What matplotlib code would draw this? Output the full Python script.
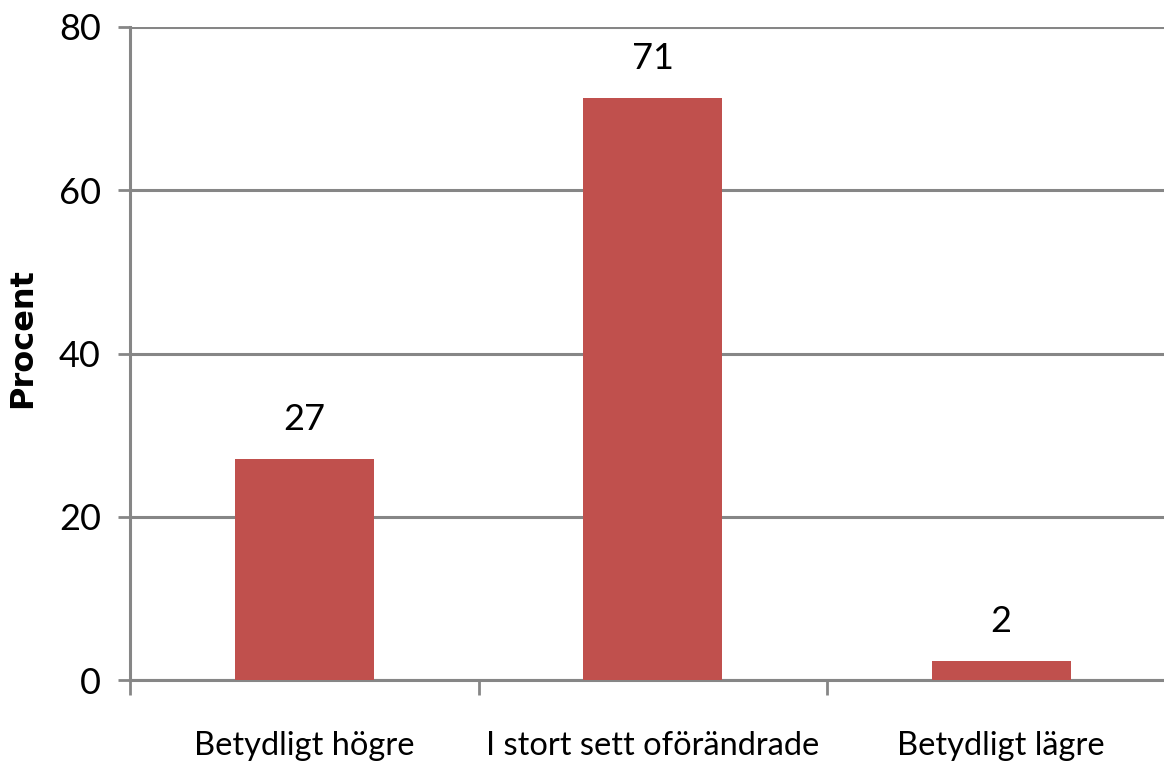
import matplotlib
matplotlib.use("Agg")
import matplotlib.pyplot as plt

categories = ["Betydligt högre", "I stort sett oförändrade", "Betydligt lägre"]
values = [27.1, 71.3, 2.3]
labels = ["27", "71", "2"]
yticks = [0, 20, 40, 60, 80]

plt.rcParams['font.family'] = ['Lato', 'DejaVu Sans']

fig = plt.figure(figsize=(11.64, 7.66), dpi=100)
ax = fig.add_axes([130/1164, (766-680)/766, 1045.5/1164, (680-27)/766])

x = list(range(len(categories)))
bar_color = "#C0504D"
grid_color = "#868686"
ax.bar(x, values, width=0.4, color=bar_color, zorder=3)

for xi, v, lab in zip(x, values, labels):
    ax.annotate(lab, (xi, v), xytext=(0, 21), textcoords="offset points",
                ha="center", va="baseline", fontsize=26, color="black")

ax.set_xlim(-0.5, len(categories) - 0.5)
ax.set_ylim(0, 80)
ax.set_yticks(yticks)
ax.set_yticklabels([str(t) for t in yticks], fontsize=26)
ax.yaxis.grid(True, color=grid_color, linewidth=2.2, zorder=0)
ax.tick_params(axis='y', length=9, width=2, color=grid_color, pad=12)

ax.set_xticks([i - 0.5 for i in range(len(categories) + 1)])
ax.set_xticklabels([])
ax.set_xticks(x, minor=True)
ax.set_xticklabels(categories, minor=True, fontsize=23.5)
ax.tick_params(axis='x', which='major', length=11, width=2, color=grid_color)
ax.tick_params(axis='x', which='minor', length=0, pad=37)

for s in ["top", "right"]:
    ax.spines[s].set_visible(False)
for s in ["left", "bottom"]:
    ax.spines[s].set_color(grid_color)
    ax.spines[s].set_linewidth(2.2)

ax.set_ylabel("Procent", fontsize=23, fontweight="bold", family="DejaVu Sans")
ax.yaxis.set_label_coords(-0.088, 0.524)

fig.savefig("out.png", dpi=100)
